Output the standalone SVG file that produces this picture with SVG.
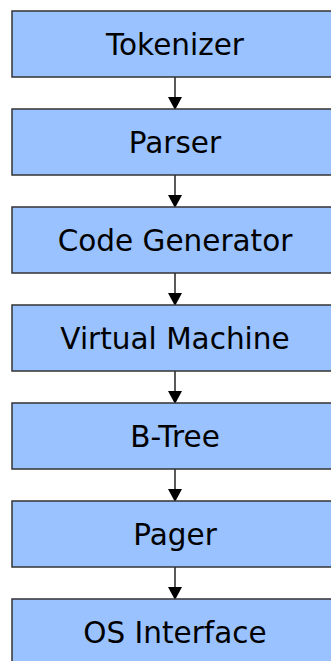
<svg xmlns="http://www.w3.org/2000/svg" width="331" height="661" viewBox="0 0 331 661">
<style>
.box{fill:#99c2ff;stroke:#333333;stroke-width:1.5}
.lbl{font-family:"DejaVu Sans",sans-serif;font-size:29.5px;fill:#000;text-anchor:middle}
.edge{stroke:#000;stroke-width:1.3;fill:none}
</style>
<defs>
<path id="ah" d="M-7,-13 L7,-13 L0,0 Z" fill="#000"/>
</defs>
<rect width="331" height="661" fill="#fff"/>
<g id="connectors">
<g id="e1"><line class="edge" x1="175" y1="77" x2="175" y2="97"/><use href="#ah" x="175" y="110"/></g>
<g id="e2"><line class="edge" x1="175" y1="175" x2="175" y2="195"/><use href="#ah" x="175" y="208"/></g>
<g id="e3"><line class="edge" x1="175" y1="273" x2="175" y2="293"/><use href="#ah" x="175" y="306"/></g>
<g id="e4"><line class="edge" x1="175" y1="371" x2="175" y2="391"/><use href="#ah" x="175" y="404"/></g>
<g id="e5"><line class="edge" x1="175" y1="469" x2="175" y2="489"/><use href="#ah" x="175" y="502"/></g>
<g id="e6"><line class="edge" x1="175" y1="567" x2="175" y2="587"/><use href="#ah" x="175" y="600"/></g>
</g>
<g id="n1"><rect class="box" x="12" y="11" width="330" height="66"/><text class="lbl" x="175" y="55">Tokenizer</text></g>
<g id="n2"><rect class="box" x="12" y="109" width="330" height="66"/><text class="lbl" x="175" y="153">Parser</text></g>
<g id="n3"><rect class="box" x="12" y="207" width="330" height="66"/><text class="lbl" x="175" y="251">Code Generator</text></g>
<g id="n4"><rect class="box" x="12" y="305" width="330" height="66"/><text class="lbl" x="175" y="349">Virtual Machine</text></g>
<g id="n5"><rect class="box" x="12" y="403" width="330" height="66"/><text class="lbl" x="175" y="447">B-Tree</text></g>
<g id="n6"><rect class="box" x="12" y="501" width="330" height="66"/><text class="lbl" x="175" y="545">Pager</text></g>
<g id="n7"><rect class="box" x="12" y="599" width="330" height="66"/><text class="lbl" x="175" y="643">OS Interface</text></g>
</svg>
